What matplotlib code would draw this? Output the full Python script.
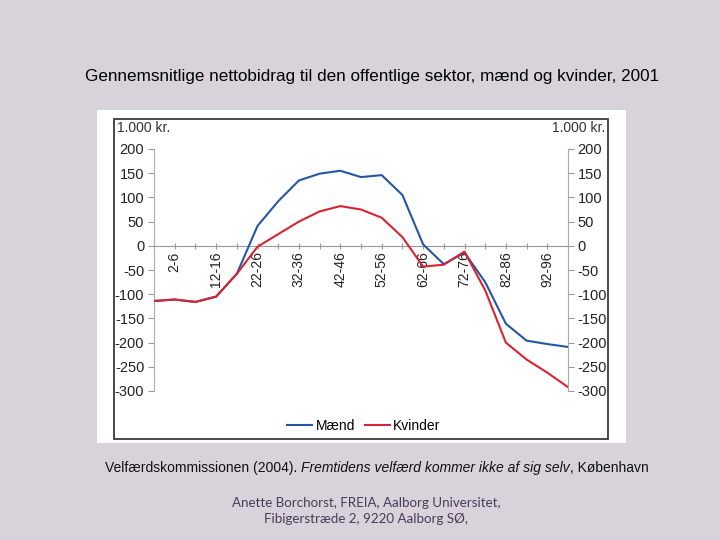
import matplotlib
matplotlib.use("Agg")
import matplotlib.pyplot as plt
from matplotlib.patches import Rectangle
from matplotlib.lines import Line2D

plt.rcParams['font.family'] = ['Liberation Sans', 'DejaVu Sans']

age_groups = ["0-1", "2-6", "7-11", "12-16", "17-21", "22-26", "27-31", "32-36",
              "37-41", "42-46", "47-51", "52-56", "57-61", "62-66", "67-71",
              "72-76", "77-81", "82-86", "87-91", "92-96", "97+"]
maend = [-114, -111, -116, -105, -58, 41, 92, 135, 149, 155, 142, 146, 105, 3,
         -38, -14, -75, -161, -196, -203, -209]
kvinder = [-114, -111, -116, -105, -58, -2, 24, 50, 71, 82, 75, 58, 18, -43,
           -39, -12, -92, -200, -235, -262, -292]
y_ticks = [-300, -250, -200, -150, -100, -50, 0, 50, 100, 150, 200]

W, H = 720, 540
fig = plt.figure(figsize=(7.2, 5.4), dpi=100, facecolor='#d8d3db')

def fx(px):
    return px / W

def fy(py):
    return 1 - py / H

# white picture area and inner frame
fig.patches.append(Rectangle((fx(97), fy(443)), fx(626) - fx(97), fy(110) - fy(443),
                             transform=fig.transFigure, facecolor='white', edgecolor='none', zorder=-2))
fig.patches.append(Rectangle((fx(114), fy(439)), fx(608) - fx(114), fy(119) - fy(439),
                             transform=fig.transFigure, facecolor='none', edgecolor='#3a3a3a',
                             linewidth=1.3, zorder=-1))

ax = fig.add_axes([fx(154), fy(391), fx(568) - fx(154), fy(149) - fy(391)])
ax.set_zorder(2)
ax.set_facecolor('none')
x = list(range(len(age_groups)))
ax.plot(x, maend, color='#2456a4', lw=1.5, label='Mænd', zorder=3)
ax.plot(x, kvinder, color='#d92332', lw=1.5, label='Kvinder', zorder=4)

ax.set_xlim(0, len(age_groups) - 1)
ax.set_ylim(-300, 200)
ax.set_yticks(y_ticks)
ax.set_yticklabels([str(v) for v in y_ticks])
ax.tick_params(axis='y', left=True, right=True, labelleft=True, labelright=True,
               direction='out', length=4, color='#999999', labelsize=10.5, pad=3,
               labelcolor='#222222')

ax.spines['top'].set_visible(False)
ax.spines['left'].set_color('#aaaaaa')
ax.spines['right'].set_color('#aaaaaa')
ax.spines['bottom'].set_position(('data', 0))
ax.spines['bottom'].set_color('#999999')
ax.spines['bottom'].set_linewidth(0.8)

ax.set_xticks(x)
ax.set_xticklabels([g if i % 2 == 1 else '' for i, g in enumerate(age_groups)],
                   rotation=90, fontsize=10, color='#222222')
ax.tick_params(axis='x', direction='inout', length=4, color='#999999', pad=2)

# legend
handles = [Line2D([], [], color='#2456a4', lw=1.5), Line2D([], [], color='#d92332', lw=1.5)]
fig.legend(handles, ['Mænd', 'Kvinder'], loc='center', bbox_to_anchor=(fx(364), fy(426)),
           ncol=2, frameon=False, fontsize=10, handlelength=1.8, columnspacing=0.7,
           handletextpad=0.25)

fig.text(fx(117), fy(128), '1.000 kr.', fontsize=10, ha='left', va='center', color='#333333')
fig.text(fx(605), fy(128), '1.000 kr.', fontsize=10, ha='right', va='center', color='#333333')

fig.text(fx(372), fy(77), 'Gennemsnitlige nettobidrag til den offentlige sektor, mænd og kvinder, 2001',
         fontsize=12.3, ha='center', va='center', color='black')

# citation line with italic part
fig.canvas.draw()
renderer = fig.canvas.get_renderer()
parts = [("Velfærdskommissionen (2004). ", 'normal'),
         ("Fremtidens velfærd kommer ikke af sig selv", 'italic'),
         (", København", 'normal')]
cx = fx(105)
for txt, style in parts:
    t = fig.text(cx, fy(468), txt, fontsize=10, style=style, ha='left', va='center', color='#111111')
    bb = t.get_window_extent(renderer=renderer)
    cx += bb.width / W

fig.text(fx(366), fy(503), 'Anette Borchorst, FREIA, Aalborg Universitet,', fontsize=9.6,
         family=['Lato', 'DejaVu Sans'], ha='center', va='center', color='#4a3a5a')
fig.text(fx(366), fy(519), 'Fibigerstræde 2, 9220 Aalborg SØ,', fontsize=9.6,
         family=['Lato', 'DejaVu Sans'], ha='center', va='center', color='#4a3a5a')

fig.savefig('out.png', dpi=100, facecolor=fig.get_facecolor())
